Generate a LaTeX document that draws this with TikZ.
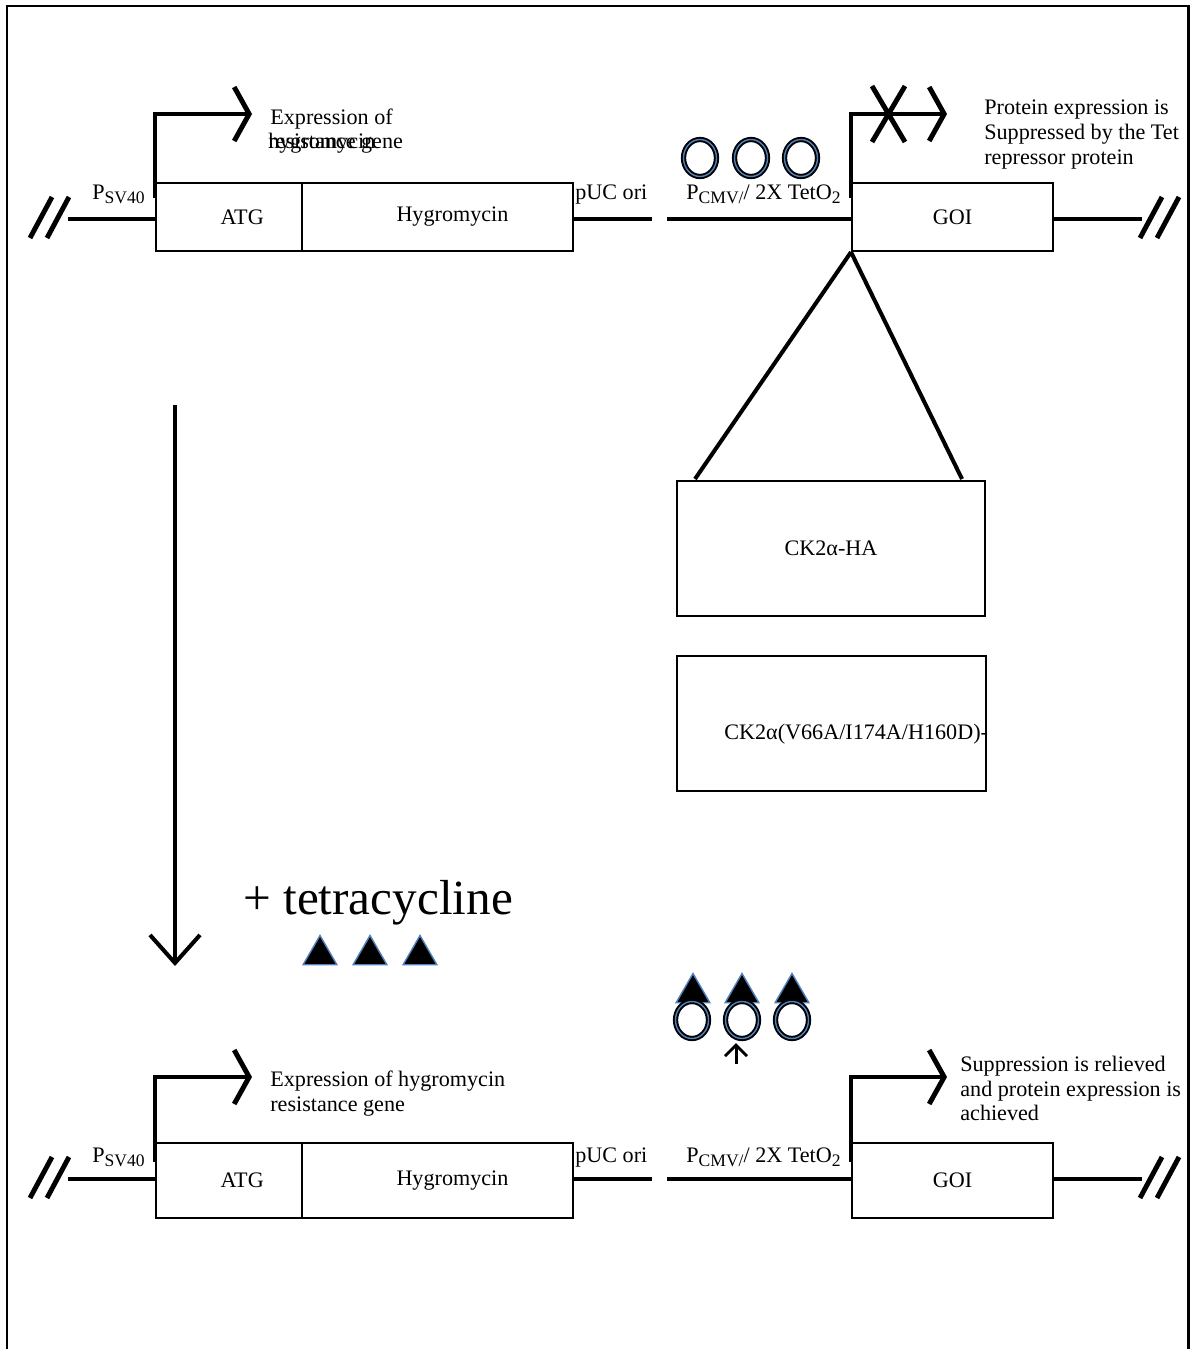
\documentclass[tikz,border=0pt]{standalone}
\usepackage{fontspec}
\setmainfont{Liberation Serif}
\usetikzlibrary{arrows.meta,shapes.geometric}

\definecolor{tetblue}{RGB}{79,129,189}
\newcommand{\lowsub}[1]{\raisebox{-0.45ex}{\fontsize{10}{10}\selectfont #1}}

\begin{document}
\begin{tikzpicture}[x=0.02cm, y=-0.02cm,
  dna/.style={line width=2.8pt},
  promo/.style={dna, -{Straight Barb[length=0.3cm, width=1.08cm]}},
  gene/.style={draw, line width=1.2pt, anchor=north west, inner sep=0pt,
    minimum height=1.36cm, font=\fontsize{12.6}{14}\selectfont},
  lbl/.style={anchor=base west, inner sep=0pt, font=\fontsize{12.6}{14}\selectfont},
  tet/.style={regular polygon, regular polygon sides=3, minimum size=0.78cm,
    inner sep=0pt, fill=black, draw=tetblue, line width=0.8pt},
  repr/.style={ellipse, minimum width=0.66cm, minimum height=0.74cm, inner sep=0pt,
    draw=black, line width=1.1pt, double=tetblue, double distance=0.8pt}]

  \useasboundingbox (0,0) rectangle (1195,1349);
  \draw[line width=1.7pt] (7,1349) -- (7,6) -- (1188,6) -- (1188,1349);

  % top construct, no tetracycline
  \node[gene, minimum width=2.92cm] (atg1) at (155,182) {\hspace{15pt}ATG};
  \node[gene, minimum width=5.42cm] (hyg1) at (301,182) {\hspace{17pt}Hygromycin};
  \node[gene, minimum width=4.02cm] (goi1) at (851,182) {GOI};

  \coordinate (w1) at (68,219);
  \coordinate (o1) at (652,219);
  \coordinate (c1) at (667,219);
  \coordinate (e1) at (1142,219);
  \draw[dna] (w1) -- (w1 -| atg1.west);
  \draw[dna] (hyg1.east |- o1) -- (o1);
  \draw[dna] (c1) -- (c1 -| goi1.west);
  \draw[dna] (goi1.east |- e1) -- (e1);
  \draw[dna] (30,238) -- (52,197) (47,238) -- (69,197);
  \draw[dna] (1140,238) -- (1162,197) (1157,238) -- (1179,197);

  \draw[promo] (155,198) |- (252,114);
  \draw[promo] (851,198) |- (947,114);
  \draw[dna] (872,86) -- (905,142) (905,86) -- (872,142);

  \node[lbl] (psv1) at (92,199) {P\lowsub{SV40}};
  \node[lbl] (puc1) at (575,199) {pUC ori};
  \node[lbl] (pcmv1) at (686,199) {P\lowsub{CMV/}/ 2X TetO\lowsub{2}};

  \node[lbl] (ex1) at (270,124) {Expression of};
  \node[lbl] (hy1) at (268,148) {hygromycin};
  \node[lbl] (rs1) at (268,148) {resistance gene};

  \begin{scope}
    \clip (7,6) rectangle (1188,1349);
    \node[lbl] (sp1) at (984,114) {Protein expression is};
    \node[lbl] (sp2) at (984,139) {Suppressed by the Tet};
    \node[lbl] (sp3) at (984,164) {repressor protein};
    \node[lbl] (rl1) at (960,1071) {Suppression is relieved};
    \node[lbl] (rl2) at (960,1096) {and protein expression is};
    \node[lbl] (rl3) at (960,1120) {achieved};
  \end{scope}

  \node[repr] (r1) at (700,158) {};
  \node[repr] (r2) at (751,158) {};
  \node[repr] (r3) at (801,158) {};

  % inserts
  \node[gene, minimum width=6.16cm, minimum height=2.7cm] (ck1) at (676,480) {CK2α-HA};
  \node[gene, minimum width=6.18cm, minimum height=2.7cm] (ck2) at (676,655) {};
  \begin{scope}
    \clip (ck2.north west) rectangle (ck2.south east);
    \node[lbl] (ckm) at (724,739) {CK2α(V66A/I174A/H160D)-};
  \end{scope}
  \coordinate (ckl) at (695,479);
  \coordinate (ckr) at (962,479);
  \draw[line width=2.3pt] (goi1.south west) -- (ckl);
  \draw[line width=2.3pt] (goi1.south west) -- (ckr);

  % tetracycline step
  \coordinate (dtop) at (175,405);
  \coordinate (dbot) at (175,966);
  \draw[line width=2.3pt, -{Straight Barb[length=0.56cm, width=1cm]}] (dtop) -- (dbot);
  \node[anchor=base west, inner sep=0pt, font=\fontsize{28}{30}\selectfont] (tc) at (243,914) {+ tetracycline};
  \node[tet] (t1) at (320,955) {};
  \node[tet] (t2) at (370,955) {};
  \node[tet] (t3) at (420,955) {};

  \node[tet] (t4) at (693,993) {};
  \node[tet] (t5) at (742,993) {};
  \node[tet] (t6) at (792,993) {};
  \node[repr] (r4) at (692,1020) {};
  \node[repr] (r5) at (742,1020) {};
  \node[repr] (r6) at (792,1020) {};
  \coordinate (ua) at (736,1064);
  \coordinate (ub) at (736,1043);
  \draw[line width=1.7pt, -{Straight Barb[length=0.22cm, width=0.44cm]}] (ua) -- (ub);

  % bottom construct, with tetracycline
  \node[gene, minimum width=2.92cm, minimum height=1.5cm] (atg2) at (155,1142) {\hspace{15pt}ATG};
  \node[gene, minimum width=5.42cm, minimum height=1.5cm] (hyg2) at (301,1142) {\hspace{17pt}Hygromycin};
  \node[gene, minimum width=4.02cm, minimum height=1.5cm] (goi2) at (851,1142) {GOI};

  \coordinate (w2) at (68,1179);
  \coordinate (o2) at (652,1179);
  \coordinate (c2) at (667,1179);
  \coordinate (e2) at (1142,1179);
  \draw[dna] (w2) -- (w2 -| atg2.west);
  \draw[dna] (hyg2.east |- o2) -- (o2);
  \draw[dna] (c2) -- (c2 -| goi2.west);
  \draw[dna] (goi2.east |- e2) -- (e2);
  \draw[dna] (30,1198) -- (52,1157) (47,1198) -- (69,1157);
  \draw[dna] (1140,1198) -- (1162,1157) (1157,1198) -- (1179,1157);

  \draw[promo] (155,1162) |- (252,1077);
  \draw[promo] (851,1162) |- (947,1077);

  \node[lbl] (psv2) at (92,1162) {P\lowsub{SV40}};
  \node[lbl] (puc2) at (575,1162) {pUC ori};
  \node[lbl] (pcmv2) at (686,1162) {P\lowsub{CMV/}/ 2X TetO\lowsub{2}};
  \node[lbl] (ex2) at (270,1086) {Expression of hygromycin};
  \node[lbl] (rs2) at (270,1111) {resistance gene};

\end{tikzpicture}
\end{document}
